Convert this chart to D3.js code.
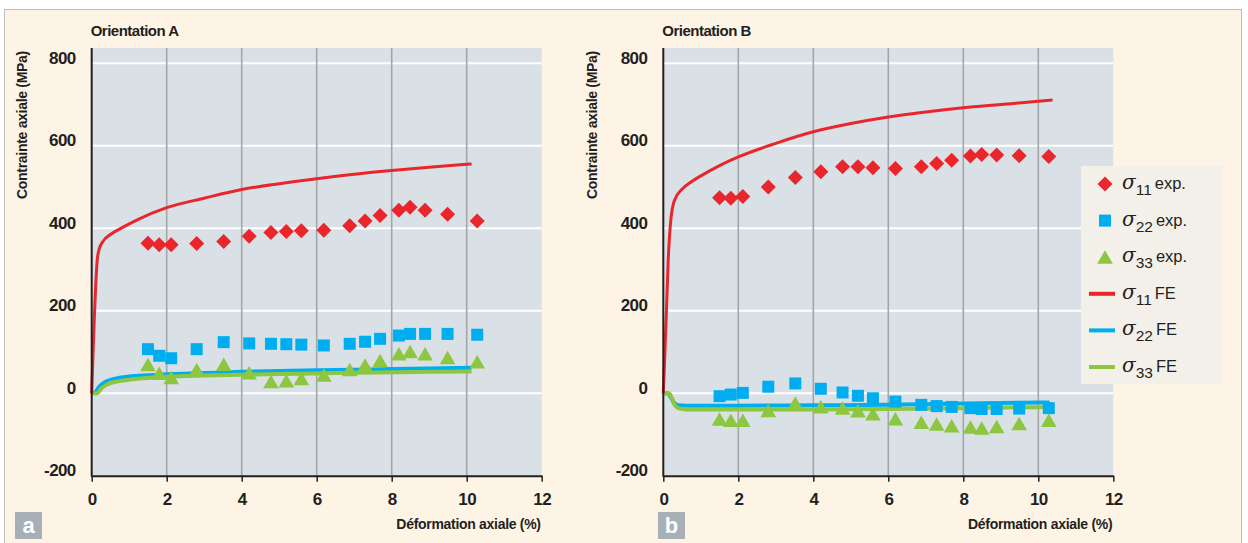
<!DOCTYPE html>
<meta charset="utf-8">
<head>
<script src="https://d3js.org/d3.v7.min.js"></script>
<style>
  body { margin: 0; background: #fff; }
  svg { display: block; font-family: "Liberation Sans", Arial, sans-serif; }
  .tick text { font-size: 17px; font-weight: bold; fill: #231f20; letter-spacing: -0.6px; }
  .title { font-size: 15px; font-weight: bold; fill: #231f20; letter-spacing: -0.5px; }
  .axis-title { font-size: 14px; font-weight: bold; fill: #231f20; letter-spacing: -0.3px; }
  .leg { font-size: 16.5px; fill: #231f20; }
  .sig { font-family: "DejaVu Serif", serif; font-style: italic; font-size: 20px; }
</style>
</head>
<body>
<div id="chart"></div>
<script>
// strain (%) of the experimental points, same for every series
var strainExp = [1.5, 1.8, 2.12, 2.8, 3.52, 4.2, 4.78, 5.19, 5.59, 6.19, 6.88, 7.29, 7.69, 8.19, 8.49, 8.89, 9.49, 10.28];

// orientation A, measured stresses (MPa)
var s11ExpA = [364, 360, 360, 363, 368, 381, 390, 392, 394, 395, 406, 418, 431, 444, 451, 444, 434, 418];
var s22ExpA = [107, 91, 85, 107, 124, 121, 120, 119, 118, 116, 120, 125, 132, 140, 144, 144, 144, 142];
var s33ExpA = [69, 48, 38, 57, 70, 49, 28, 30, 35, 44, 57, 68, 79, 95, 101, 95, 86, 76];

// orientation B, measured stresses (MPa)
var s11ExpB = [474, 473, 477, 500, 523, 537, 549, 549, 547, 545, 549, 557, 565, 575, 579, 578, 576, 574];
var s22ExpB = [-7, -3, 1, 16, 24, 11, 2, -6, -12, -20, -28, -31, -33, -36, -38, -38, -37, -36];
var s33ExpB = [-63, -66, -66, -42, -24, -33, -36, -43, -50, -62, -71, -75, -79, -82, -85, -81, -74, -66];

// FE curves, [strain %, stress MPa]
var feA11 = [[0, 0], [0.15, 325], [0.2, 350], [0.3, 368], [0.5, 385], [0.8, 401], [1.2, 420], [2, 450], [3, 473], [4, 494], [5, 508], [6, 520], [7, 531], [8, 540], [9, 548], [10, 555], [10.13, 556]];
var feA22 = [[0, 0], [0.1, 3], [0.2, 16], [0.35, 27], [0.6, 35], [1, 41], [1.5, 44], [2, 46], [3, 49], [4, 52], [5, 54], [6, 56], [7, 57], [8, 59], [9, 60], [10.13, 62]];
var feA33 = [[0, 0], [0.15, 0], [0.25, 11], [0.4, 21], [0.7, 29], [1, 33], [1.5, 37], [2, 40], [3, 43], [4, 45], [5, 47], [6, 48], [7, 50], [8, 51], [9, 52], [10.13, 53]];
var feB11 = [[0, 0], [0.08, 190], [0.13, 320], [0.2, 420], [0.3, 468], [0.5, 495], [0.75, 513], [1, 527], [1.5, 552], [2, 573], [3, 606], [4, 634], [5, 654], [6, 670], [7, 682], [8, 692], [9, 700], [10, 708], [10.38, 711]];
var feB22 = [[0, 0], [0.12, 0], [0.2, -10], [0.3, -24], [0.4, -29], [0.6, -30], [2, -30], [4, -29], [6, -28], [8, -25], [10.3, -22]];
var feB33 = [[0, 0], [0.15, 0], [0.22, -10], [0.3, -28], [0.4, -36], [0.6, -39], [2, -39], [4, -39], [6, -38], [8, -36], [10.3, -33]];

var xTicks = [0, 2, 4, 6, 8, 10, 12];
var yTicks = [-200, 0, 200, 400, 600, 800];

var red = "#e8262b", blue = "#00aeef", green = "#8dc63f";
var ink = "#231f20";

var svg = d3.select("#chart").append("svg")
    .attr("width", 1248)
    .attr("height", 543);

// page frame
svg.append("rect")
    .attr("x", 4.5).attr("y", 9.5)
    .attr("width", 1237).attr("height", 540)
    .attr("fill", "#fef4e5")
    .attr("stroke", "#b9bdc1");

var diamond = "M0,-7.5L7.5,0L0,7.5L-7.5,0Z";
var square = "M-6,-6H6V6H-6Z";
var triangle = "M0,-7L7.8,6.5H-7.8Z";

function drawPanel(p) {
    var g = svg.append("g");
    var x = d3.scaleLinear().domain([0, 12]).range([p.left, p.left + 450]);
    var y = d3.scaleLinear().domain([-200, 800]).range([475.8, 63.3]);
    var top = 48;

    g.append("rect")
        .attr("x", x(0)).attr("y", top)
        .attr("width", x(12) - x(0)).attr("height", y(-200) - top)
        .attr("fill", "#d9e0e6");

    // white horizontal grid
    g.selectAll(".hg").data(yTicks.filter(function (d) { return d > -200; }))
        .enter().append("line")
        .attr("x1", x(0)).attr("x2", x(12))
        .attr("y1", function (d) { return y(d); })
        .attr("y2", function (d) { return y(d); })
        .attr("stroke", "#fff").attr("stroke-width", 2);

    // grey vertical grid
    g.selectAll(".vg").data([2, 4, 6, 8, 10])
        .enter().append("line")
        .attr("x1", function (d) { return x(d); })
        .attr("x2", function (d) { return x(d); })
        .attr("y1", top).attr("y2", y(-200))
        .attr("stroke", "#a4a7aa").attr("stroke-width", 1.6);

    var line = d3.line()
        .x(function (d) { return x(d[0]); })
        .y(function (d) { return y(d[1]); })
        .curve(d3.curveMonotoneX);

    g.append("path").datum(p.fe22).attr("d", line)
        .attr("fill", "none").attr("stroke", blue).attr("stroke-width", 4);
    g.append("path").datum(p.fe33).attr("d", line)
        .attr("fill", "none").attr("stroke", green).attr("stroke-width", 4);
    g.append("path").datum(p.fe11).attr("d", line)
        .attr("fill", "none").attr("stroke", red).attr("stroke-width", 3);

    function markers(vals, shape, color) {
        g.selectAll(null).data(vals)
            .enter().append("path")
            .attr("d", shape)
            .attr("transform", function (d, i) {
                return "translate(" + x(strainExp[i]) + "," + y(d) + ")";
            })
            .attr("fill", color);
    }
    markers(p.exp22, square, blue);
    markers(p.exp33, triangle, green);
    markers(p.exp11, diamond, red);

    // x axis
    var xa = g.append("g")
        .attr("transform", "translate(0," + y(-200) + ")")
        .call(d3.axisBottom(x).tickValues(xTicks).tickSize(6).tickSizeOuter(0).tickPadding(11.5));
    xa.select(".domain").attr("stroke", ink).attr("stroke-width", 2);
    xa.selectAll(".tick line").attr("stroke", ink).attr("stroke-width", 1.5);
    xa.selectAll(".tick text").attr("font-family", null).attr("font-size", null);

    // y axis, plain hyphen for the negative label
    var ya = g.append("g")
        .attr("transform", "translate(" + x(0) + ",0)")
        .call(d3.axisLeft(y).tickValues(yTicks).tickSize(0).tickPadding(16).tickFormat(String));
    ya.select(".domain").remove();
    ya.selectAll(".tick text").attr("dy", 0).attr("font-family", null).attr("font-size", null);
    g.append("line")
        .attr("x1", x(0)).attr("x2", x(0))
        .attr("y1", top).attr("y2", y(-200) + 1)
        .attr("stroke", ink).attr("stroke-width", 2);

    g.append("text").attr("class", "title")
        .attr("x", x(0) - 1).attr("y", 36)
        .text(p.title);

    g.append("text").attr("class", "axis-title")
        .attr("text-anchor", "middle")
        .attr("transform", "translate(" + (x(0) - p.yLabelOff) + ",125) rotate(-90)")
        .text("Contrainte axiale (MPa)");

    g.append("text").attr("class", "axis-title")
        .attr("text-anchor", "end")
        .attr("x", x(12) - 1).attr("y", 529)
        .text("Déformation axiale (%)");

    g.append("rect")
        .attr("x", p.tagX).attr("y", 512)
        .attr("width", 27).attr("height", 27)
        .attr("fill", "#a7afb7");
    g.append("text")
        .attr("x", p.tagX + 13.5).attr("y", 533)
        .attr("text-anchor", "middle")
        .attr("fill", "#fff")
        .attr("font-size", 22).attr("font-weight", "bold")
        .text(p.tag);
}

drawPanel({
    left: 91.7, title: "Orientation A", tag: "a", tagX: 15, yLabelOff: 65,
    exp11: s11ExpA, exp22: s22ExpA, exp33: s33ExpA,
    fe11: feA11, fe22: feA22, fe33: feA33
});
drawPanel({
    left: 663.3, title: "Orientation B", tag: "b", tagX: 658, yLabelOff: 66,
    exp11: s11ExpB, exp22: s22ExpB, exp33: s33ExpB,
    fe11: feB11, fe22: feB22, fe33: feB33
});

// legend
var legendItems = [
    { sub: "11", txt: "exp.", shape: diamond, color: red },
    { sub: "22", txt: "exp.", shape: square, color: blue },
    { sub: "33", txt: "exp.", shape: triangle, color: green },
    { sub: "11", txt: "FE", color: red },
    { sub: "22", txt: "FE", color: blue },
    { sub: "33", txt: "FE", color: green }
];
var leg = svg.append("g");
leg.append("rect")
    .attr("x", 1081).attr("y", 166)
    .attr("width", 141).attr("height", 218)
    .attr("fill", "#f3f0ea");
var rows = leg.selectAll(".row").data(legendItems).enter().append("g")
    .attr("transform", function (d, i) { return "translate(0," + (184 + i * 36.6) + ")"; });
rows.each(function (d) {
    var r = d3.select(this);
    if (d.shape) {
        r.append("path").attr("d", d.shape)
            .attr("transform", "translate(1105,0)")
            .attr("fill", d.color);
    } else {
        r.append("line").attr("x1", 1089).attr("x2", 1115)
            .attr("stroke", d.color).attr("stroke-width", 4);
    }
    var t = r.append("text").attr("class", "leg").attr("x", 1122).attr("y", 5);
    t.append("tspan").attr("class", "sig").text("σ");
    t.append("tspan").attr("dy", 6).attr("font-size", 15.5).text(d.sub);
    t.append("tspan").attr("dy", -6).attr("dx", 3).text(d.txt);
});
</script>
</body>
